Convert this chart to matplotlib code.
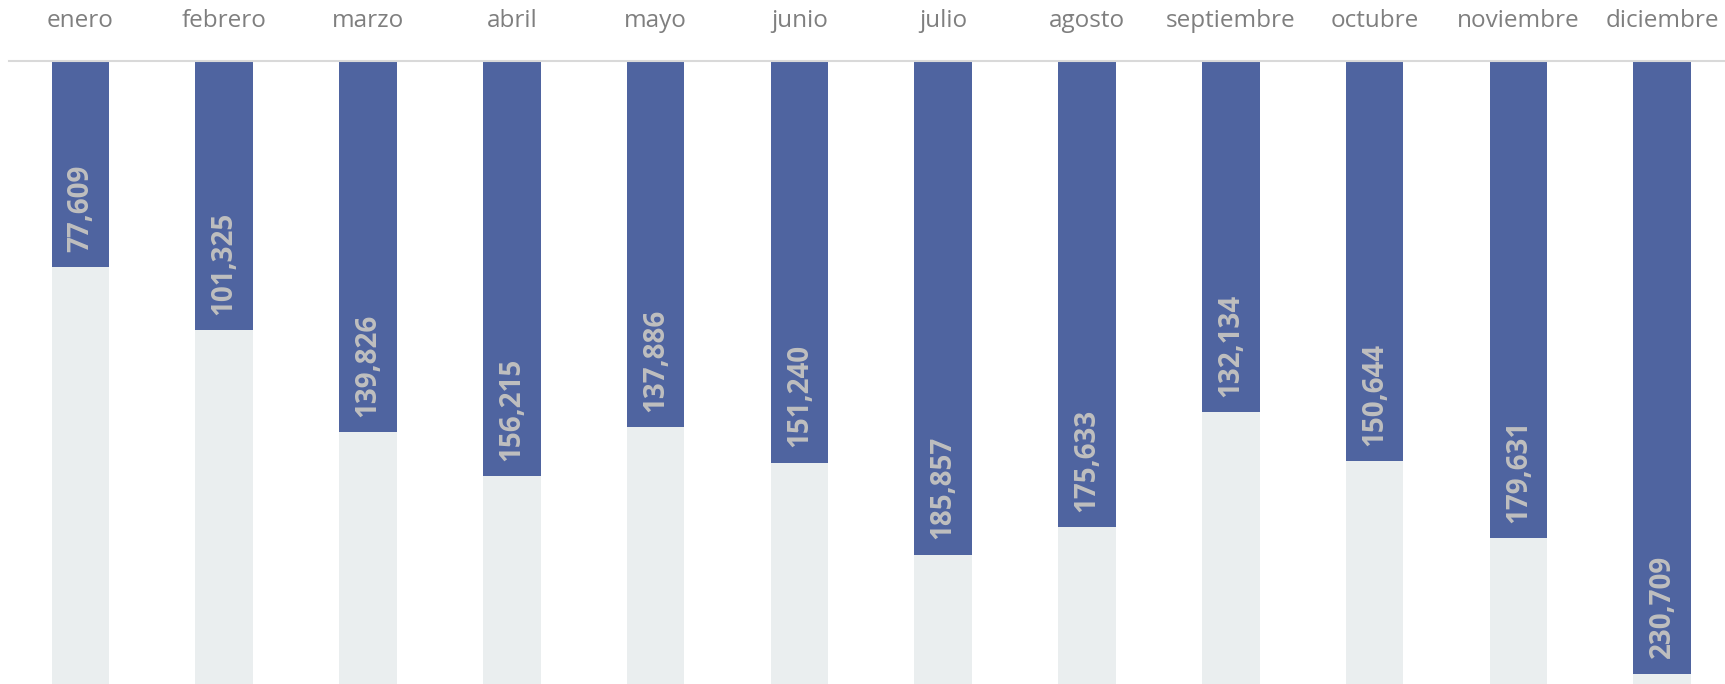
import matplotlib.pyplot as plt

meses = ['enero', 'febrero', 'marzo', 'abril', 'mayo', 'junio', 'julio',
         'agosto', 'septiembre', 'octubre', 'noviembre', 'diciembre']
valores = [77609, 101325, 139826, 156215, 137886, 151240, 185857,
           175633, 132134, 150644, 179631, 230709]
fondo = 250000  # gray background bars

azul = '#4f64a0'
gris = '#eaeeef'

plt.rcParams['font.family'] = ['Open Sans', 'DejaVu Sans']

fig = plt.figure(figsize=(17.25, 6.84), dpi=100)
# axes runs a bit past the right and bottom edges, like the original
ax = fig.add_axes([8.5 / 1725, (684 - 61 - 664) / 684, 1725.6 / 1725, 664 / 684])

x = range(len(meses))
ax.bar(x, [fondo] * len(meses), width=0.4, color=gris, zorder=1)
ax.bar(x, valores, width=0.4, color=azul, zorder=2)

for i, v in enumerate(valores):
    ax.annotate(f'{v:,}', (i, v), xytext=(0, 11), textcoords='offset points',
                rotation=90, rotation_mode='anchor', ha='left', va='center',
                color='#bfbfbf', fontsize=20, fontweight='bold', zorder=3)

ax.set_xlim(-0.5, 11.5)
ax.set_ylim(fondo, 0)
ax.xaxis.tick_top()
ax.set_xticks(list(x))
ax.set_xticklabels(meses, fontsize=17.5, color='#7f7f7f')
ax.tick_params(axis='x', length=0, pad=20)
ax.set_yticks([])
for s in ['left', 'right', 'bottom']:
    ax.spines[s].set_visible(False)
ax.spines['top'].set_color('#d9d9d9')
ax.spines['top'].set_linewidth(1.5)

fig.savefig('out.png', dpi=100)
